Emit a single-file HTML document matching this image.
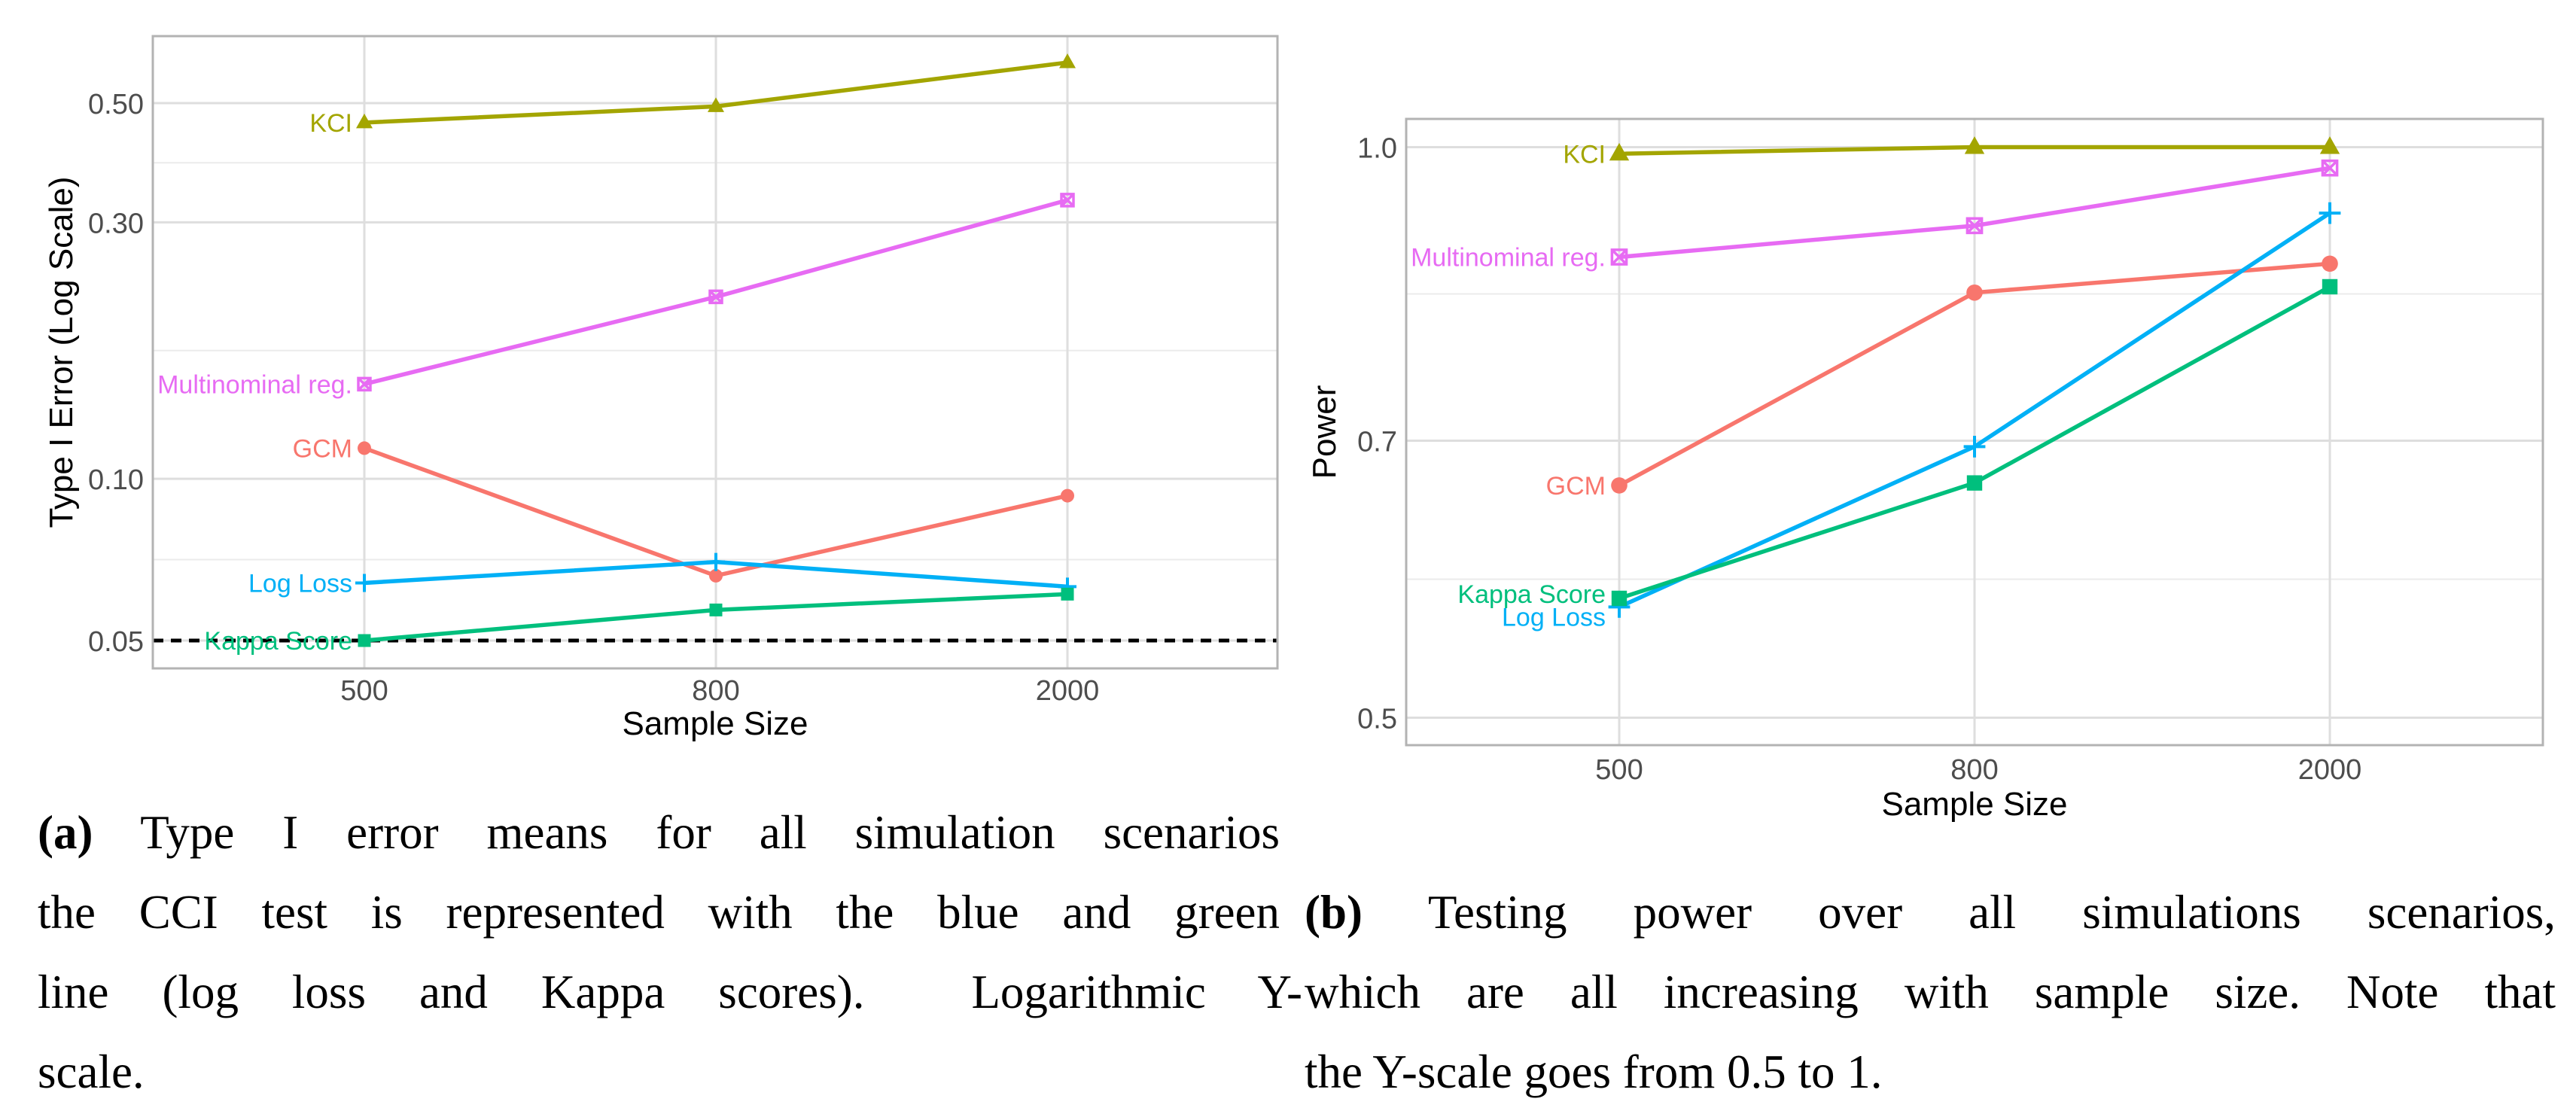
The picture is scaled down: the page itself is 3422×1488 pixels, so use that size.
<!DOCTYPE html>
<html><head><meta charset="utf-8">
<style>
body{margin:0;background:#fff;}
#wrap{position:relative;width:3422px;height:1488px;overflow:hidden;background:#fff;}
svg text{font-family:"Liberation Sans",sans-serif;}
.cap{position:absolute;font-family:"Liberation Serif",serif;font-size:63px;line-height:72px;color:#000;white-space:nowrap;text-align:justify;text-align-last:justify;}
.cap.nj{text-align:left;text-align-last:left;}
</style></head>
<body>
<div id="wrap">
<svg id="chart" width="3422" height="1110" style="position:absolute;left:0;top:0"></svg>
<div class="cap" style="left:50px;top:1070px;width:1650px"><b>(a)</b> Type I error means for all simulation scenarios</div>
<div class="cap" style="left:50px;top:1176px;width:1650px">the CCI test is represented with the blue and green</div>
<div class="cap" style="left:50px;top:1282px;width:1680px">line (log loss and Kappa scores).&nbsp; Logarithmic Y-</div>
<div class="cap nj" style="left:50px;top:1388px">scale.</div>
<div class="cap" style="left:1733px;top:1176px;width:1662px"><b>(b)</b> Testing power over all simulations scenarios,</div>
<div class="cap" style="left:1733px;top:1282px;width:1662px">which are all increasing with sample size. Note that</div>
<div class="cap nj" style="left:1733px;top:1388px">the Y-scale goes from 0.5 to 1.</div>
</div>
<script>
const categories = ["500","800","2000"];
const seriesNames = ["KCI","Multinominal reg.","GCM","Log Loss","Kappa Score"];
const typeIKCI = [0.46,0.493,0.595];
const typeIMulti = [0.150,0.218,0.33];
const typeIGCM = [0.114,0.066,0.093];
const typeILogLoss = [0.064,0.070,0.063];
const typeIKappa = [0.050,0.057,0.061];
const powerKCI = [0.992,1.0,1.0];
const powerMulti = [0.875,0.909,0.975];
const powerGCM = [0.663,0.838,0.868];
const powerLogLoss = [0.572,0.695,0.923];
const powerKappa = [0.578,0.665,0.844];
const typeITicks = [0.05,0.10,0.30,0.50];
const typeITickLabels = ["0.05","0.10","0.30","0.50"];
const powerTicks = [0.5,0.7,1.0];
const powerTickLabels = ["0.5","0.7","1.0"];
const refLine = [0.05];

const colors = ["#A3A500","#E76BF3","#F8766D","#00B0F6","#00BF7D"];
const shapes = ["tri","boxx","circle","plus","square"];
const svg = document.getElementById('chart');
const NS = "http://www.w3.org/2000/svg";
function mk(tag, attrs, parent){const e=document.createElementNS(NS,tag);for(const k in attrs)e.setAttribute(k,attrs[k]);(parent||svg).appendChild(e);return e;}

function panel(cfg){
  const g = mk('g',{});
  
  
  const {x0,x1,y0,y1} = cfg.box;
  const yScale = v => cfg.yRef - (Math.log10(v) - Math.log10(cfg.vRef)) * cfg.ppd;
  const xScale = i => cfg.xFirst + i * cfg.xStep;
  for(let i=0;i<cfg.ticks.length-1;i++){
    const m = Math.sqrt(cfg.ticks[i]*cfg.ticks[i+1]);
    const l=mk('line',{x1:x0,x2:x1,y1:yScale(m),y2:yScale(m),stroke:'#ebebeb','stroke-width':2},g);
    
    
  }
  cfg.ticks.forEach((t,i)=>{
    const y=yScale(t);
    const l=mk('line',{x1:x0,x2:x1,y1:y,y2:y,stroke:'#dedede','stroke-width':3},g);
    
    
    const tx=mk('text',{x:x0-12,y:y+14,'text-anchor':'end','font-size':38,fill:'#4d4d4d'},g);
    tx.textContent=cfg.tickLabels[i];
    
    
  });
  categories.forEach((c,i)=>{
    const x=xScale(i);
    const l=mk('line',{x1:x,x2:x,y1:y0,y2:y1,stroke:'#dedede','stroke-width':3},g);
    
    
    const tx=mk('text',{x:x,y:cfg.xTickY,'text-anchor':'middle','font-size':38,fill:'#4d4d4d'},g);
    tx.textContent=c;
    
    
  });
  if(cfg.ref){
    const y=yScale(cfg.ref[0]);
    const l=mk('line',{x1:x0,x2:x1,y1:y,y2:y,stroke:'#000','stroke-width':5,'stroke-dasharray':'14 10'},g);
    
    
  }
  cfg.series.forEach((vals,s)=>{
    const pts = vals.map((v,i)=>[xScale(i),yScale(v)]);
    const pl=mk('polyline',{points:pts.map(p=>p.join(',')).join(' '),fill:'none',stroke:colors[s],'stroke-width':5.5},g);
    
    
    pts.forEach(p=>{
      const c=colors[s], sh=shapes[s], r=cfg.r; let m;
      if(sh==='tri') m=mk('polygon',{points:`${p[0]},${p[1]-r*1.2} ${p[0]-r*1.1},${p[1]+r*0.75} ${p[0]+r*1.1},${p[1]+r*0.75}`,fill:c},g);
      else if(sh==='circle') m=mk('circle',{cx:p[0],cy:p[1],r:r*0.9,fill:c},g);
      else if(sh==='square') m=mk('rect',{x:p[0]-r*0.85,y:p[1]-r*0.85,width:r*1.7,height:r*1.7,fill:c},g);
      else if(sh==='plus') m=mk('path',{d:`M${p[0]-r*1.2},${p[1]}H${p[0]+r*1.2}M${p[0]},${p[1]-r*1.2}V${p[1]+r*1.2}`,stroke:c,'stroke-width':4},g);
      else m=mk('path',{d:`M${p[0]-r*0.8},${p[1]-r*0.8}h${r*1.6}v${r*1.6}h${-r*1.6}zM${p[0]-r*0.8},${p[1]-r*0.8}L${p[0]+r*0.8},${p[1]+r*0.8}M${p[0]+r*0.8},${p[1]-r*0.8}L${p[0]-r*0.8},${p[1]+r*0.8}`,stroke:c,'stroke-width':3.5,fill:'none'},g);
      
      
    });
    const ly = cfg.labelOffsets && cfg.labelOffsets[s]!=null ? pts[0][1]+cfg.labelOffsets[s] : pts[0][1];
    const tx=mk('text',{x:pts[0][0]-cfg.r-6,y:ly+12,'text-anchor':'end','font-size':34,fill:colors[s]},g);
    tx.textContent=seriesNames[s];
    
    
  });
  const b=mk('rect',{x:x0,y:y0,width:x1-x0,height:y1-y0,fill:'none',stroke:'#b3b3b3','stroke-width':3},g);
  
  
  const xt=mk('text',{x:(x0+x1)/2,y:cfg.xTitleY,'text-anchor':'middle','font-size':44,fill:'#000'},g);
  xt.textContent='Sample Size';
  
  
  const yt=mk('text',{x:0,y:0,'text-anchor':'middle','font-size':44,fill:'#000',transform:`translate(${cfg.yTitleX},${cfg.yTitleY}) rotate(-90)`},g);
  yt.textContent=cfg.yTitle;
  
  
}

panel({name:'type-i-error-panel',box:{x0:203,x1:1697,y0:48,y1:888},yRef:851,vRef:0.05,ppd:714,
  xFirst:484,xStep:467,ticks:typeITicks,tickLabels:typeITickLabels,xTickY:930,xTitleY:976,
  yTitleX:96,yTitleY:468,yTitle:'Type I Error (Log Scale)',r:10,ref:refLine,
  series:[typeIKCI,typeIMulti,typeIGCM,typeILogLoss,typeIKappa]});
panel({name:'power-panel',box:{x0:1868,x1:3378,y0:158,y1:990},yRef:195.5,vRef:1.0,ppd:2518,
  xFirst:2151,xStep:472,ticks:powerTicks,tickLabels:powerTickLabels,xTickY:1035,xTitleY:1083,
  yTitleX:1774,yTitleY:574,yTitle:'Power',r:12,
  labelOffsets:[0,0,0,13,-6],
  series:[powerKCI,powerMulti,powerGCM,powerLogLoss,powerKappa]});
</script>
</body></html>
